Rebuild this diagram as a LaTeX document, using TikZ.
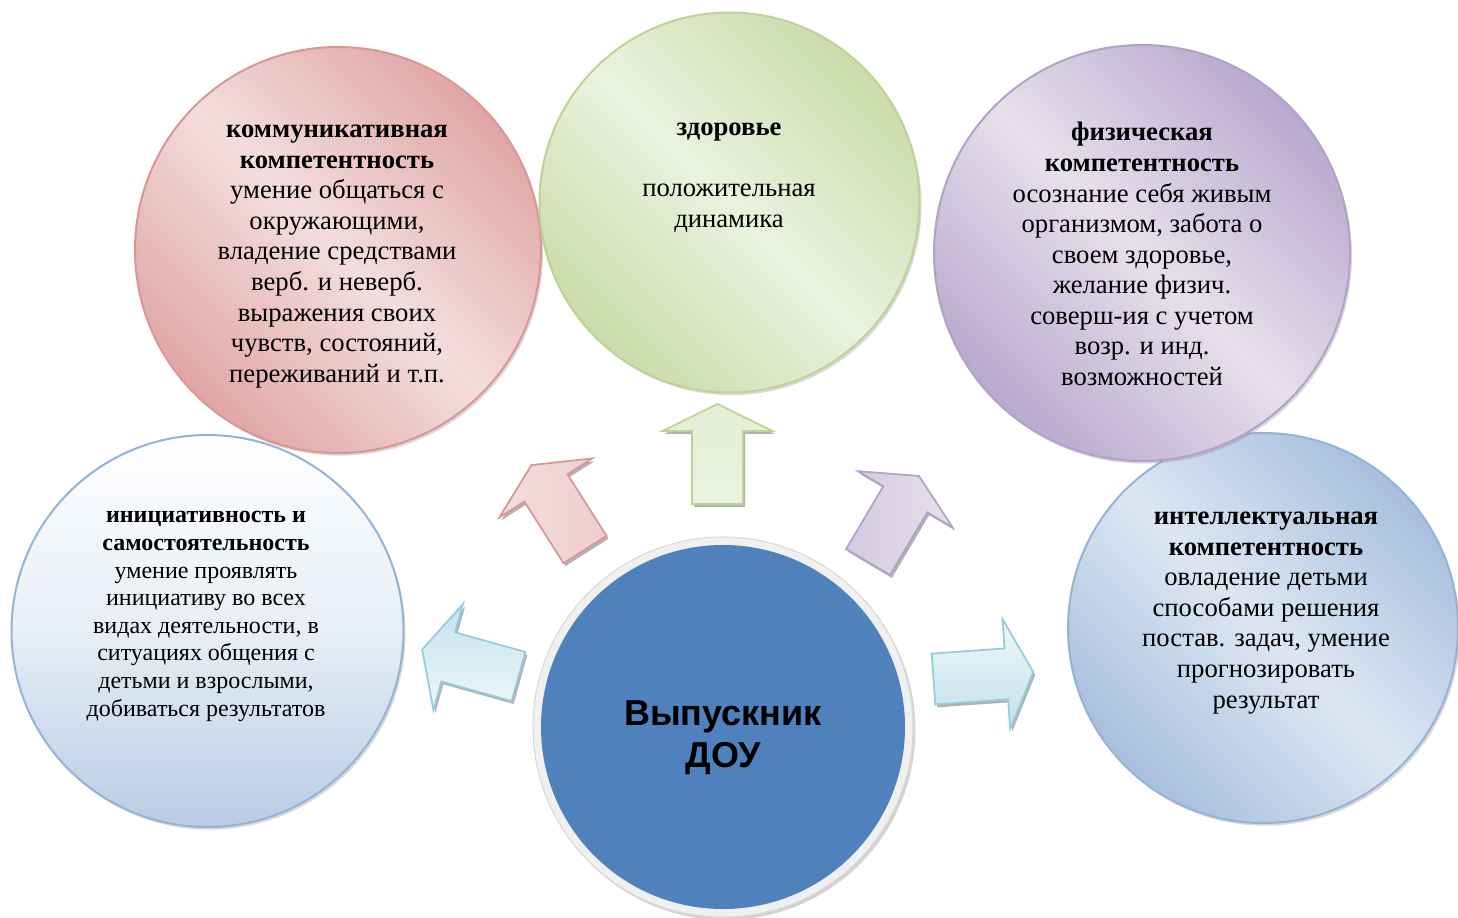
\documentclass[tikz,border=0pt]{standalone}
\usepackage{fontspec}
\setmainfont{Liberation Serif}
\newfontfamily\arialfont{Liberation Sans}
\usetikzlibrary{shadows}
\definecolor{redL}{HTML}{F3DEDD}
\definecolor{redD}{HTML}{E0A6A5}
\definecolor{redB}{HTML}{D99694}
\definecolor{grnL}{HTML}{EBF2DF}
\definecolor{grnD}{HTML}{CBDCAA}
\definecolor{grnB}{HTML}{BDD396}
\definecolor{purL}{HTML}{E6E0EC}
\definecolor{purD}{HTML}{B9A9CE}
\definecolor{purB}{HTML}{B3A2C7}
\definecolor{bluL}{HTML}{DDE7F3}
\definecolor{bluD}{HTML}{A7BFDD}
\definecolor{bluB}{HTML}{95B3D7}
\definecolor{cyaL}{HTML}{EEF7FA}
\definecolor{cyaD}{HTML}{C3E2EA}
\definecolor{cyaB}{HTML}{93CDDD}
\definecolor{center}{HTML}{4F81BD}
\newcommand\blockarrow[3]{%
  \fill[black!55,opacity=0.55,shift={(#1)},xshift=1.5pt,yshift=-2.2pt,rotate=#2]
    (0,-25.5) -- (73,-25.5) -- (73,-55) -- (100,0) -- (73,55) -- (73,25.5) -- (0,25.5) -- cycle;
  \draw[#3,shift={(#1)},rotate=#2]
    (0,-25.5) -- (73,-25.5) -- (73,-55) -- (100,0) -- (73,55) -- (73,25.5) -- (0,25.5) -- cycle;
}
\begin{document}
\begin{tikzpicture}[x=0.75pt,y=-0.75pt,
  bubble/.style={circle, inner sep=0pt, line width=1.5pt,
    drop shadow={shadow xshift=1.5pt,shadow yshift=-2pt,opacity=0.3}},
  diag/.style 2 args={left color=#1, right color=#1, middle color=#2, shading angle=-45},
  txt/.style={align=center, inner sep=0pt, font=\fontsize{20}{22.9}\selectfont},
  txtsmall/.style={align=center, inner sep=0pt, font=\fontsize{18}{20.7}\selectfont},
  barrow/.style={line width=1.3pt, line join=miter}
]
\useasboundingbox (0,0) rectangle (1458,917);

% outer circles
\node[bubble, minimum size=294pt, draw=bluB, top color=white, bottom color=bluD!80, middle color=bluL!70]
  (init) at (207.5,631) {};
\node[bubble, minimum size=292.5pt, draw=bluB, diag={bluD}{bluL}]
  (intel) at (1263,628) {};
\node[bubble, minimum size=304.5pt, draw=redB, diag={redD}{redL}]
  (komm) at (338,250) {};
\node[bubble, minimum size=285pt, draw=grnB, diag={grnD}{grnL}]
  (zdor) at (729.5,202.5) {};
\node[bubble, minimum size=312pt, draw=purB, diag={purD}{purL}]
  (fiz) at (1142,253) {};

% arrows
\coordinate (aG) at (717.5,504);
\coordinate (aR) at (585,549.5);
\coordinate (aP) at (868,562);
\coordinate (aL) at (518.5,676.5);
\coordinate (aRt) at (933.5,679);
\blockarrow{aG}{90}{barrow, draw=grnB, left color=grnL!80!grnD, right color=grnL, shading angle=0}
\blockarrow{aR}{122.4}{barrow, draw=redB, left color=redL, right color=redL!70!redD}
\blockarrow{aP}{59.3}{barrow, draw=purB, left color=purL!60!purD, right color=purL}
\blockarrow{aL}{164.4}{barrow, draw=cyaB, top color=cyaD, bottom color=cyaL}
\blockarrow{aRt}{4}{barrow, draw=cyaB, top color=cyaL, bottom color=cyaD}

% center
\node[circle, inner sep=0pt, minimum size=285pt, fill=black!6, draw=black!15, line width=0.8pt,
  drop shadow={shadow xshift=1.8pt,shadow yshift=-2.2pt,opacity=0.35}] (gradring) at (723,727) {};
\node[circle, inner sep=0pt, minimum size=273pt, fill=center] (grad) at (gradring.center) {};
\node[align=center, inner sep=0pt, font=\arialfont\bfseries\fontsize{27}{31.5}\selectfont]
  (gradT) at (723,738) {Выпускник\\ДОУ};

% texts
\node[txt] (kommT) at (337,256.5) {\textbf{коммуникативная}\\\textbf{компетентность}\\умение общаться с\\окружающими,\\владение средствами\\верб. и неверб.\\выражения своих\\чувств, состояний,\\переживаний и т.п.};
\node[txt] (zdorT) at (729,177.5) {\textbf{здоровье}\\[22.9pt]положительная\\динамика};
\node[txt] (fizT) at (1142,254) {\textbf{физическая}\\\textbf{компетентность}\\осознание себя живым\\организмом, забота о\\своем здоровье,\\желание физич.\\соверш-ия с учетом\\возр. и инд.\\возможностей};
\node[txtsmall] (initT) at (206,616.5) {\textbf{инициативность и}\\\textbf{самостоятельность}\\умение проявлять\\инициативу во всех\\видах деятельности, в\\ситуациях общения с\\детьми и взрослыми,\\добиваться результатов};
\node[txt] (intelT) at (1266,613) {\textbf{интеллектуальная}\\\textbf{компетентность}\\овладение детьми\\способами решения\\постав. задач, умение\\прогнозировать\\результат};
\end{tikzpicture}
\end{document}
